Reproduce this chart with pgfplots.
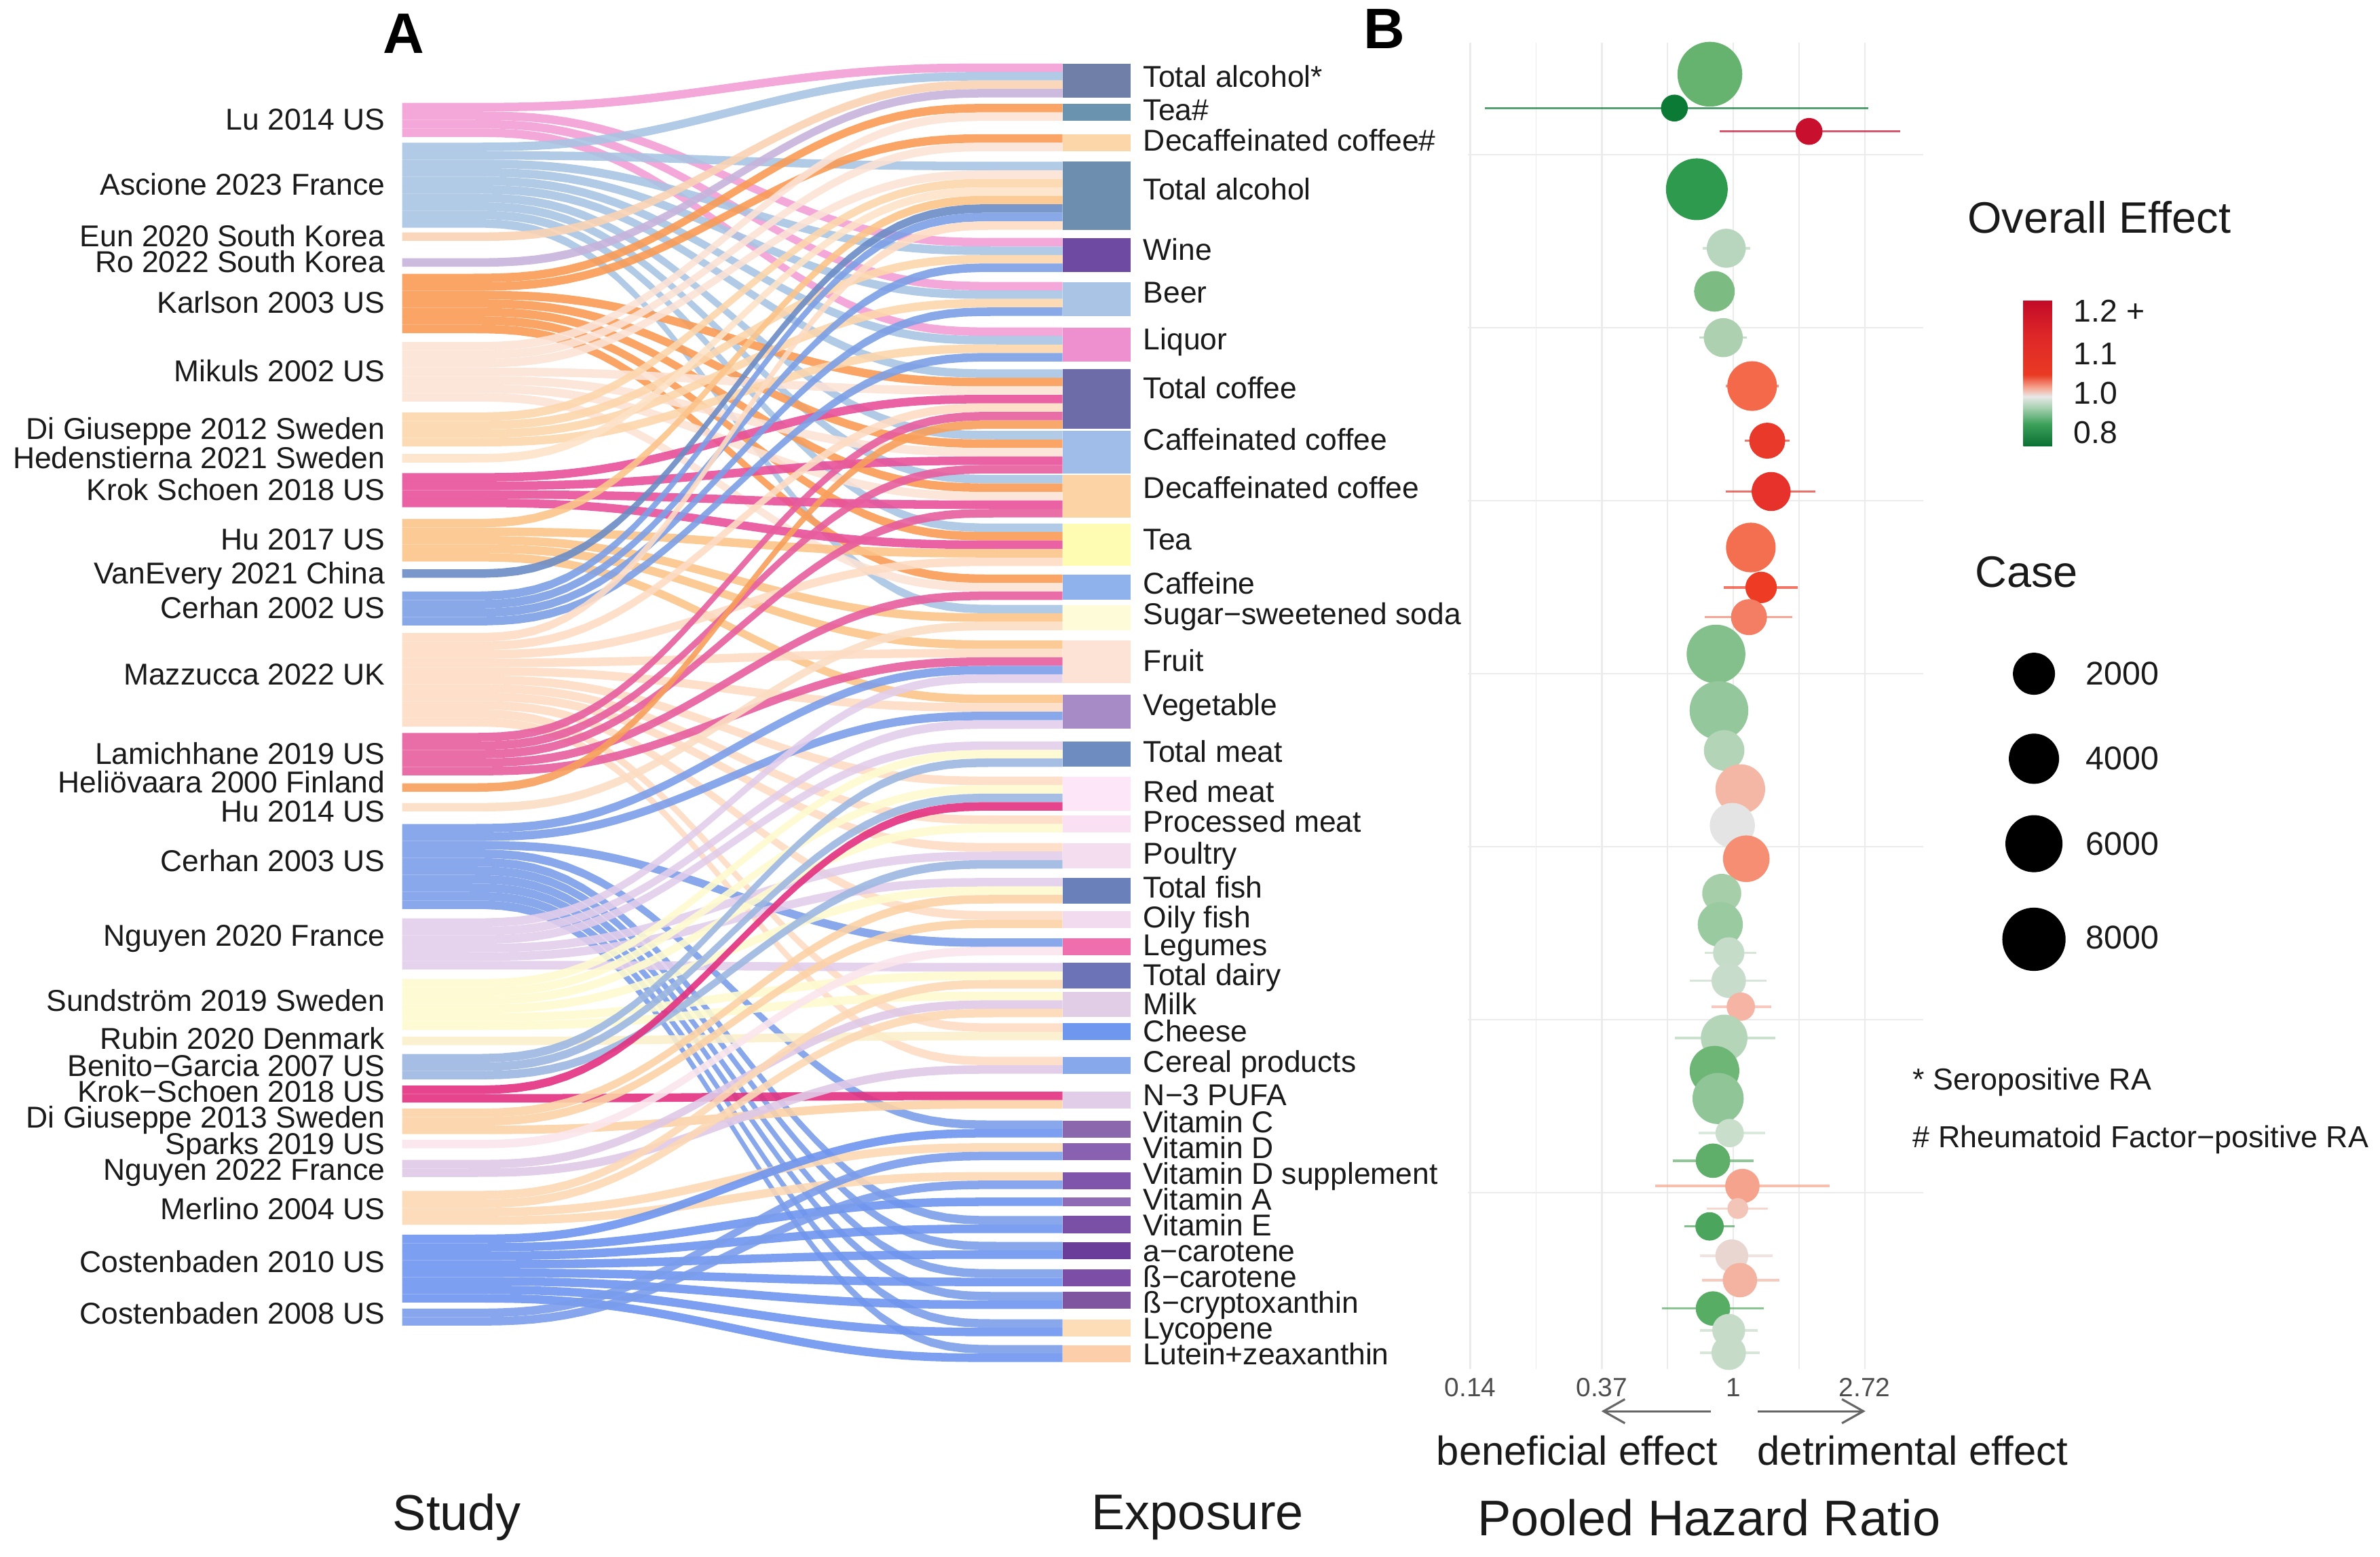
\documentclass[border=0pt]{standalone}
\usepackage{fontspec}
\setmainfont{Liberation Sans}
\usepackage{pgfplots}
\pgfplotsset{compat=1.18}
\usepackage{pgfplotstable}
\usetikzlibrary{arrows.meta,calc}

% ---- study colours
\definecolor{s1}{HTML}{F29FD5}\definecolor{s2}{HTML}{A9C4E2}\definecolor{s3}{HTML}{FAD3B4}
\definecolor{s4}{HTML}{C7B3DC}\definecolor{s5}{HTML}{F99B55}\definecolor{s6}{HTML}{FCE2D5}
\definecolor{s7}{HTML}{FCD6AC}\definecolor{s8}{HTML}{FDE3C8}\definecolor{s9}{HTML}{E8509A}
\definecolor{s10}{HTML}{FBC48A}\definecolor{s11}{HTML}{6B8CC6}\definecolor{s12}{HTML}{7C9FE6}
\definecolor{s13}{HTML}{FDDCC4}\definecolor{s14}{HTML}{E75E9E}\definecolor{s15}{HTML}{F79F5B}
\definecolor{s16}{HTML}{FCDEC4}\definecolor{s17}{HTML}{7C9EEA}\definecolor{s18}{HTML}{E2CDEA}
\definecolor{s19}{HTML}{FEFBCF}\definecolor{s20}{HTML}{FBEFCB}\definecolor{s21}{HTML}{9DB7E1}
\definecolor{s22}{HTML}{E3307F}\definecolor{s23}{HTML}{FCD2A6}\definecolor{s24}{HTML}{FBE6EC}
\definecolor{s25}{HTML}{DFC9E7}\definecolor{s26}{HTML}{FCD8B4}\definecolor{s27}{HTML}{6E95EF}
\definecolor{s28}{HTML}{7A9CEB}
% ---- exposure colours
\definecolor{e1}{HTML}{6F7FA8}\definecolor{e2}{HTML}{6A93B0}\definecolor{e3}{HTML}{FCD6A8}
\definecolor{e4}{HTML}{6E8EAF}\definecolor{e5}{HTML}{6E4AA2}\definecolor{e6}{HTML}{A9C4E4}
\definecolor{e7}{HTML}{EE8FD0}\definecolor{e8}{HTML}{6E6CA8}\definecolor{e9}{HTML}{A0BDEA}
\definecolor{e10}{HTML}{FCD3A4}\definecolor{e11}{HTML}{FEFBB2}\definecolor{e12}{HTML}{8FB1EC}
\definecolor{e13}{HTML}{FEFCD8}\definecolor{e14}{HTML}{FDE3D6}\definecolor{e15}{HTML}{A68BC6}
\definecolor{e16}{HTML}{6E8CC0}\definecolor{e17}{HTML}{FCE6F7}\definecolor{e18}{HTML}{F9E1F3}
\definecolor{e19}{HTML}{F5DDF0}\definecolor{e20}{HTML}{6A80BA}\definecolor{e21}{HTML}{F2DAEF}
\definecolor{e22}{HTML}{EE6EAE}\definecolor{e23}{HTML}{6C74B7}\definecolor{e24}{HTML}{E2CDE6}
\definecolor{e25}{HTML}{6E98F0}\definecolor{e26}{HTML}{88A8EC}\definecolor{e27}{HTML}{E2CDE8}
\definecolor{e28}{HTML}{8B67AE}\definecolor{e29}{HTML}{8862B0}\definecolor{e30}{HTML}{7E55AA}
\definecolor{e31}{HTML}{8E6BB4}\definecolor{e32}{HTML}{7A50A6}\definecolor{e33}{HTML}{6A3D9A}
\definecolor{e34}{HTML}{7C4EA5}\definecolor{e35}{HTML}{7E559E}\definecolor{e36}{HTML}{FDDDB8}
\definecolor{e37}{HTML}{FCCFAA}
% ---- forest colours
\definecolor{f1}{HTML}{66B36F}\definecolor{f2}{HTML}{0B7A35}\definecolor{f3}{HTML}{C8102E}
\definecolor{f4}{HTML}{2E9A4E}\definecolor{f5}{HTML}{B8D6BD}\definecolor{f6}{HTML}{7CBC83}
\definecolor{f7}{HTML}{ACD0B0}\definecolor{f8}{HTML}{F4694A}\definecolor{f9}{HTML}{E8392A}
\definecolor{f10}{HTML}{E6322A}\definecolor{f11}{HTML}{F46E50}\definecolor{f12}{HTML}{EE3B24}
\definecolor{f13}{HTML}{F47E64}\definecolor{f14}{HTML}{84C08B}\definecolor{f15}{HTML}{94C79B}
\definecolor{f16}{HTML}{B4D4B8}\definecolor{f17}{HTML}{F4B6A5}\definecolor{f18}{HTML}{E4E4E4}
\definecolor{f19}{HTML}{F58E73}\definecolor{f20}{HTML}{A5CEA9}\definecolor{f21}{HTML}{9ACA9F}
\definecolor{f22}{HTML}{C5DDC8}\definecolor{f23}{HTML}{C8DCCB}\definecolor{f24}{HTML}{F5B4A4}
\definecolor{f25}{HTML}{B4D5B8}\definecolor{f26}{HTML}{6DB676}\definecolor{f27}{HTML}{8FC597}
\definecolor{f28}{HTML}{C9DFCC}\definecolor{f29}{HTML}{5FAF6A}\definecolor{f30}{HTML}{F5A38C}
\definecolor{f31}{HTML}{F3C5B9}\definecolor{f32}{HTML}{4CA55C}\definecolor{f33}{HTML}{EAD6D0}
\definecolor{f34}{HTML}{F4B3A1}\definecolor{f35}{HTML}{57AD63}\definecolor{f36}{HTML}{C6DCC9}
\definecolor{f37}{HTML}{C6DCC9}
\definecolor{gridc}{HTML}{EBEBEB}
\definecolor{tickc}{HTML}{4D4D4D}
\definecolor{arrc}{HTML}{666666}
\definecolor{txt}{HTML}{1A1A1A}

% ribbon outline (top edge forward, bottom edge back); shape of an alluvial flow
\pgfplotstableread{
t s d
0 0 0
0.05 0 0
0.1 0 0
0.125 0.000291 0
0.15 0.0022182 0
0.175 0.0071245 0
0.2 0.0160522 0
0.225 0.0297653 0
0.25 0.048769 0
0.275 0.0733338 0
0.3 0.1035156 0
0.325 0.1391744 0
0.35 0.180006 0
0.375 0.2255458 0
0.4 0.2752075 0
0.425 0.3282946 0
0.45 0.3840256 0
0.475 0.441559 0
0.5 0.5 0
0.525 0.558441 0
0.55 0.6159744 0
0.575 0.6717054 0
0.6 0.7247925 0
0.625 0.7744542 0
0.65 0.819994 0
0.675 0.8608256 0
0.7 0.8964844 0
0.725 0.9266662 0
0.75 0.951231 0
0.775 0.9702347 0
0.8 0.9839478 0
0.825 0.9928755 0
0.85 0.9977818 0
0.875 0.999709 0
0.9 1 0
0.95 1 0
1 1 0
1 1 1
0.95 1 1
0.9 1 1
0.875 0.999709 1
0.85 0.9977818 1
0.825 0.9928755 1
0.8 0.9839478 1
0.775 0.9702347 1
0.75 0.951231 1
0.725 0.9266662 1
0.7 0.8964844 1
0.675 0.8608256 1
0.65 0.819994 1
0.625 0.7744542 1
0.6 0.7247925 1
0.575 0.6717054 1
0.55 0.6159744 1
0.525 0.558441 1
0.5 0.5 1
0.475 0.441559 1
0.45 0.3840256 1
0.425 0.3282946 1
0.4 0.2752075 1
0.375 0.2255458 1
0.35 0.180006 1
0.325 0.1391744 1
0.3 0.1035156 1
0.275 0.0733338 1
0.25 0.048769 1
0.225 0.0297653 1
0.2 0.0160522 1
0.175 0.0071245 1
0.15 0.0022182 1
0.125 0.000291 1
0.1 0 1
0.05 0 1
0 0 1
}\ribbon

\newcommand\lab{\fontsize{11.3}{13}\selectfont}
\newcommand\fl[3]{\addplot[fill=#3, draw=none, fill opacity=0.9] table[x expr={265+435*\thisrow{t}}, y expr={#1+(#2-#1)*\thisrow{s}+5.6*\thisrow{d}}] {\ribbon};}
\newcommand\bx[3]{\addplot[fill=#3, draw=none] coordinates {(700,#1) (745,#1) (745,#2) (700,#2)};}
\newcommand\fp[6]{\addplot[draw=#6, line width=0.9pt, draw opacity=0.7] coordinates {(#3,#1) (#4,#1)};
  \addplot[only marks, mark=*, color=#6, mark size=#5cm] coordinates {(#2,#1)};}

\tikzset{
  lblE/.style={anchor=east, font=\lab, inner sep=0pt, text height=8.2pt, text depth=0.8pt, text=txt},
  lblW/.style={anchor=west, font=\lab, inner sep=0pt, text height=8.2pt, text depth=0.8pt, text=txt},
}

\begin{document}
\begin{tikzpicture}
\begin{axis}[at={(0,0)}, anchor=north west, scale only axis, width=31.36cm, height=20.52cm,
  xmin=0, xmax=1568, ymin=0, ymax=1026, y dir=reverse, hide axis, clip=false]
% ================= flows (study -> exposure)
% Lu 2014
\fl{67.8}{41.8}{s1}\fl{73.4}{156.8}{s1}\fl{79.0}{185.8}{s1}\fl{84.6}{215.8}{s1}
% Ascione 2023
\fl{94}{47.4}{s2}\fl{99.6}{106.6}{s2}\fl{105.2}{162.4}{s2}\fl{110.8}{191.4}{s2}\fl{116.4}{221.4}{s2}
\fl{122.0}{243.4}{s2}\fl{127.6}{284}{s2}\fl{133.2}{313}{s2}\fl{138.8}{345}{s2}\fl{144.4}{398.6}{s2}
% Eun, Ro
\fl{153.2}{53.0}{s3}
\fl{170.2}{58.6}{s4}
% Karlson 2003
\fl{180.4}{68.4}{s5}\fl{186.0}{88.4}{s5}\fl{191.6}{249.0}{s5}\fl{197.2}{289.6}{s5}\fl{202.8}{318.6}{s5}
\fl{208.4}{350.6}{s5}\fl{214.0}{378.6}{s5}
% Mikuls 2002
\fl{225.4}{74.0}{s6}\fl{231.0}{94.0}{s6}\fl{236.6}{112.2}{s6}\fl{242.2}{254.6}{s6}\fl{247.8}{295.2}{s6}
\fl{253.4}{324.2}{s6}\fl{259.0}{384.2}{s6}
% Di Giuseppe 2012
\fl{271.8}{117.8}{s7}\fl{277.4}{168.0}{s7}\fl{283.0}{197.0}{s7}\fl{288.6}{227.0}{s7}
% Hedenstierna
\fl{299.2}{123.4}{s8}
% Krok Schoen 2018
\fl{311.8}{260.2}{s9}\fl{317.4}{300.8}{s9}\fl{323.0}{329.8}{s9}\fl{328.6}{356.2}{s9}
% Hu 2017
\fl{342}{129.0}{s10}\fl{347.6}{361.8}{s10}\fl{353.2}{404.2}{s10}\fl{358.8}{422.0}{s10}\fl{364.4}{457.8}{s10}
% VanEvery
\fl{375.2}{134.6}{s11}
% Cerhan 2002
\fl{389.8}{140.2}{s12}\fl{395.4}{173.6}{s12}\fl{401.0}{202.6}{s12}\fl{406.6}{232.6}{s12}
% Mazzucca 2022
\fl{417.2}{145.8}{s13}\fl{422.8}{265.8}{s13}\fl{428.4}{367.4}{s13}\fl{434.0}{427.6}{s13}\fl{439.6}{463.4}{s13}
\fl{445.2}{511.8}{s13}\fl{450.8}{537.4}{s13}\fl{456.4}{555.6}{s13}\fl{462.0}{600.4}{s13}\fl{467.6}{674.4}{s13}
\fl{473.2}{696.4}{s13}
% Lamichhane 2019
\fl{483}{271.4}{s14}\fl{488.6}{306.4}{s14}\fl{494.2}{335.4}{s14}\fl{499.8}{389.8}{s14}\fl{505.4}{433.2}{s14}
% Heliovaara, Hu 2014
\fl{516.2}{277.0}{s15}
\fl{529.2}{409.8}{s16}
% Cerhan 2003
\fl{543}{438.8}{s17}\fl{548.6}{469.0}{s17}\fl{554.2}{618.4}{s17}\fl{559.8}{738.4}{s17}\fl{565.4}{801.4}{s17}
\fl{571.0}{818.4}{s17}\fl{576.6}{836.4}{s17}\fl{582.2}{851.4}{s17}\fl{587.8}{869.4}{s17}\fl{593.4}{886.4}{s17}
% Nguyen 2020
\fl{605.2}{444.4}{s18}\fl{610.8}{474.6}{s18}\fl{616.4}{488.6}{s18}\fl{622.0}{561.2}{s18}\fl{627.6}{578.6}{s18}
\fl{633.2}{634.6}{s18}
% Sundstrom 2019
\fl{645.2}{494.2}{s19}\fl{650.8}{517.4}{s19}\fl{656.4}{543.0}{s19}\fl{662.0}{584.2}{s19}\fl{667.6}{640.2}{s19}
\fl{673.2}{653.6}{s19}
% Rubin 2020
\fl{683.2}{680.0}{s20}
% Benito-Garcia 2007
\fl{694.6}{499.8}{s21}\fl{700.2}{523.0}{s21}\fl{705.8}{566.8}{s21}
% Krok-Schoen 2018
\fl{715.4}{528.6}{s22}\fl{721.0}{719.4}{s22}
% Di Giuseppe 2013
\fl{730.6}{589.8}{s23}\fl{736.2}{606.0}{s23}\fl{741.8}{725.0}{s23}
% Sparks 2019
\fl{751.2}{624.0}{s24}
% Nguyen 2022
\fl{764.4}{659.2}{s25}\fl{770.0}{702.0}{s25}
% Merlino 2004
\fl{784.8}{645.8}{s26}\fl{790.4}{664.8}{s26}\fl{796.0}{753.4}{s26}\fl{801.6}{772.4}{s26}
% Costenbaden 2010
\fl{813.6}{744.0}{s27}\fl{819.2}{789.2}{s27}\fl{824.8}{807.0}{s27}\fl{830.4}{824.0}{s27}
\fl{836.0}{842.0}{s27}\fl{841.6}{857.0}{s27}\fl{847.2}{875.0}{s27}\fl{852.8}{892.0}{s27}
% Costenbaden 2008
\fl{862.4}{759.0}{s28}\fl{868.0}{778.0}{s28}

% ================= exposure boxes
\bx{41.8}{64.2}{e1}\bx{68.4}{79.6}{e2}\bx{88.4}{99.6}{e3}\bx{106.6}{151.4}{e4}
\bx{156.8}{179.2}{e5}\bx{185.8}{208.2}{e6}\bx{215.8}{238.2}{e7}\bx{243.4}{282.6}{e8}
\bx{284}{312}{e9}\bx{313}{341}{e10}\bx{345}{373}{e11}\bx{378.6}{395.4}{e12}
\bx{398.6}{415.4}{e13}\bx{422}{450}{e14}\bx{457.8}{480.2}{e15}\bx{488.6}{505.4}{e16}
\bx{511.8}{534.2}{e17}\bx{537.4}{548.6}{e18}\bx{555.6}{572.4}{e19}\bx{578.6}{595.4}{e20}
\bx{600.4}{611.6}{e21}\bx{618.4}{629.6}{e22}\bx{634.6}{651.4}{e23}\bx{653.6}{670.4}{e24}
\bx{674.4}{685.6}{e25}\bx{696.4}{707.6}{e26}\bx{719.4}{730.6}{e27}\bx{738.4}{749.6}{e28}
\bx{753.4}{764.6}{e29}\bx{772.4}{783.6}{e30}\bx{789.2}{794.8}{e31}\bx{801.4}{812.6}{e32}
\bx{818.4}{829.6}{e33}\bx{836.4}{847.6}{e34}\bx{851.4}{862.6}{e35}\bx{869.4}{880.6}{e36}
\bx{886.4}{897.6}{e37}

% ================= study labels
\node[lblE] at (axis cs:254,79) {Lu 2014 US};
\node[lblE] at (axis cs:254,122) {Ascione 2023 France};
\node[lblE] at (axis cs:254,156) {Eun 2020 South Korea};
\node[lblE] at (axis cs:254,173) {Ro 2022 South Korea};
\node[lblE] at (axis cs:254,200) {Karlson 2003 US};
\node[lblE] at (axis cs:254,245) {Mikuls 2002 US};
\node[lblE] at (axis cs:254,283) {Di Giuseppe 2012 Sweden};
\node[lblE] at (axis cs:254,302) {Hedenstierna 2021 Sweden};
\node[lblE] at (axis cs:254,323) {Krok Schoen 2018 US};
\node[lblE] at (axis cs:254,356) {Hu 2017 US};
\node[lblE] at (axis cs:254,378) {VanEvery 2021 China};
\node[lblE] at (axis cs:254,401) {Cerhan 2002 US};
\node[lblE] at (axis cs:254,445) {Mazzucca 2022 UK};
\node[lblE] at (axis cs:254,497) {Lamichhane 2019 US};
\node[lblE] at (axis cs:254,516) {Heliövaara 2000 Finland};
\node[lblE] at (axis cs:254,535) {Hu 2014 US};
\node[lblE] at (axis cs:254,568) {Cerhan 2003 US};
\node[lblE] at (axis cs:254,617) {Nguyen 2020 France};
\node[lblE] at (axis cs:254,660) {Sundström 2019 Sweden};
\node[lblE] at (axis cs:254,685) {Rubin 2020 Denmark};
\node[lblE] at (axis cs:254,703) {Benito−Garcia 2007 US};
\node[lblE] at (axis cs:254,720) {Krok−Schoen 2018 US};
\node[lblE] at (axis cs:254,737) {Di Giuseppe 2013 Sweden};
\node[lblE] at (axis cs:254,754) {Sparks 2019 US};
\node[lblE] at (axis cs:254,771) {Nguyen 2022 France};
\node[lblE] at (axis cs:254,797) {Merlino 2004 US};
\node[lblE] at (axis cs:254,832) {Costenbaden 2010 US};
\node[lblE] at (axis cs:254,866) {Costenbaden 2008 US};

% ================= exposure labels
\node[lblW] at (axis cs:753,51) {Total alcohol*};
\node[lblW] at (axis cs:753,73) {Tea\#};
\node[lblW] at (axis cs:753,93) {Decaffeinated coffee\#};
\node[lblW] at (axis cs:753,125) {Total alcohol};
\node[lblW] at (axis cs:753,165) {Wine};
\node[lblW] at (axis cs:753,193) {Beer};
\node[lblW] at (axis cs:753,224) {Liquor};
\node[lblW] at (axis cs:753,256) {Total coffee};
\node[lblW] at (axis cs:753,290) {Caffeinated coffee};
\node[lblW] at (axis cs:753,322) {Decaffeinated coffee};
\node[lblW] at (axis cs:753,356) {Tea};
\node[lblW] at (axis cs:753,385) {Caffeine};
\node[lblW] at (axis cs:753,405) {Sugar−sweetened soda};
\node[lblW] at (axis cs:753,436) {Fruit};
\node[lblW] at (axis cs:753,465) {Vegetable};
\node[lblW] at (axis cs:753,496) {Total meat};
\node[lblW] at (axis cs:753,522) {Red meat};
\node[lblW] at (axis cs:753,542) {Processed meat};
\node[lblW] at (axis cs:753,563) {Poultry};
\node[lblW] at (axis cs:753,585) {Total fish};
\node[lblW] at (axis cs:753,605) {Oily fish};
\node[lblW] at (axis cs:753,623) {Legumes};
\node[lblW] at (axis cs:753,643) {Total dairy};
\node[lblW] at (axis cs:753,662) {Milk};
\node[lblW] at (axis cs:753,680) {Cheese};
\node[lblW] at (axis cs:753,700) {Cereal products};
\node[lblW] at (axis cs:753,722) {N−3 PUFA};
\node[lblW] at (axis cs:753,740) {Vitamin C};
\node[lblW] at (axis cs:753,757) {Vitamin D};
\node[lblW] at (axis cs:753,774) {Vitamin D supplement};
\node[lblW] at (axis cs:753,791) {Vitamin A};
\node[lblW] at (axis cs:753,808) {Vitamin E};
\node[lblW] at (axis cs:753,825) {a−carotene};
\node[lblW] at (axis cs:753,842) {ß−carotene};
\node[lblW] at (axis cs:753,859) {ß−cryptoxanthin};
\node[lblW] at (axis cs:753,876) {Lycopene};
\node[lblW] at (axis cs:753,893) {Lutein+zeaxanthin};

% ================= panel letters and titles
\node[font=\fontsize{21.4}{24}\selectfont\bfseries, text=black] at (axis cs:266,22) {A};
\node[font=\fontsize{21.4}{24}\selectfont\bfseries, text=black] at (axis cs:912,19) {B};
\node[font=\fontsize{18.8}{22}\selectfont, text=txt] at (axis cs:301,1000) {Study};
\node[font=\fontsize{18.8}{22}\selectfont, text=txt] at (axis cs:789,1000) {Exposure};
\node[font=\fontsize{18.8}{22}\selectfont, text=txt] at (axis cs:1126,1000) {Pooled Hazard Ratio};

% ================= effect arrows
\addplot[draw=arrc, line width=0.8pt, -{Straight Barb[length=8pt,width=9pt]}] coordinates {(1127,930) (1055,930)};
\addplot[draw=arrc, line width=0.8pt, -{Straight Barb[length=8pt,width=9pt]}] coordinates {(1158,930) (1229,930)};
\node[font=\fontsize{15.2}{18}\selectfont, text=txt] at (axis cs:1039,956) {beneficial effect};
\node[font=\fontsize{15.2}{18}\selectfont, text=txt] at (axis cs:1260,956) {detrimental effect};

% ================= legends
\node[font=\fontsize{16.5}{19}\selectfont, text=txt] at (axis cs:1383,143) {Overall Effect};
\node[font=\fontsize{16.5}{19}\selectfont, text=txt] at (axis cs:1335,377) {Case};
\addplot[only marks, mark=*, color=black, mark size=0.27cm] coordinates {(1340,444)};
\addplot[only marks, mark=*, color=black, mark size=0.324cm] coordinates {(1340,500)};
\addplot[only marks, mark=*, color=black, mark size=0.369cm] coordinates {(1340,556)};
\addplot[only marks, mark=*, color=black, mark size=0.41cm] coordinates {(1340,619)};
\node[anchor=west, font=\fontsize{12.3}{14}\selectfont, text=txt] at (axis cs:1368,444) {2000};
\node[anchor=west, font=\fontsize{12.3}{14}\selectfont, text=txt] at (axis cs:1368,500) {4000};
\node[anchor=west, font=\fontsize{12.3}{14}\selectfont, text=txt] at (axis cs:1368,556) {6000};
\node[anchor=west, font=\fontsize{12.3}{14}\selectfont, text=txt] at (axis cs:1368,618) {8000};
\node[anchor=west, inner sep=0pt, font=\fontsize{11.4}{14}\selectfont, text=txt] at (axis cs:1260,713) {* Seropositive RA};
\node[anchor=west, inner sep=0pt, font=\fontsize{11.4}{14}\selectfont, text=txt] at (axis cs:1260,751) {\# Rheumatoid Factor−positive RA};
\end{axis}

% ================= panel B: forest plot
\begin{axis}[at={(19.34cm,-0.56cm)}, anchor=north west, scale only axis, width=6cm, height=17.48cm,
  xmode=log, xmin=0.1327, xmax=4.24, ymin=28, ymax=902, y dir=reverse, clip=false,
  axis line style={draw=none}, major tick length=0pt, minor tick length=0pt,
  xtick={0.1353,0.3679,1,2.7183}, xticklabels={0.14,0.37,1,2.72},
  minor xtick={0.2231,0.6065,1.6487},
  ytick={102,216,330,444,558,672,786}, yticklabels={},
  xmajorgrids, xminorgrids, ymajorgrids,
  major grid style={draw=gridc, line width=0.6pt},
  minor grid style={draw=gridc, line width=0.45pt},
  xticklabel style={font=\fontsize{9.9}{12}\selectfont, text=tickc},
  colorbar,
  colormap={oe}{rgb255(0cm)=(10,112,50); rgb255(1.5cm)=(60,160,90); rgb255(2.7cm)=(172,211,181); rgb255(3.4cm)=(232,232,232); rgb255(4.0cm)=(245,168,148); rgb255(4.9cm)=(234,58,35); rgb255(7.5cm)=(222,40,40); rgb255(10cm)=(195,10,40)},
  point meta min=0, point meta max=1,
  colorbar style={at={($(parent axis.north west)+(7.02cm,-3.40cm)$)}, anchor=north west,
    scale only axis, width=0.38cm, height=1.92cm, axis line style={draw=none},
    ymin=0, ymax=1, ytick={0.093,0.363,0.634,0.927}, yticklabels={0.8,1.0,1.1,{1.2 +}},
    major tick length=0pt,
    yticklabel style={font=\fontsize{11.8}{14}\selectfont, text=txt, xshift=0.16cm}},
]
\fp{48.9}{0.837}{0.80}{0.87}{0.42}{f1}
\fp{71.2}{0.639}{0.151}{2.79}{0.17}{f2}
\fp{86.6}{1.78}{0.901}{3.56}{0.17}{f3}
\fp{124.7}{0.758}{0.72}{0.80}{0.40}{f4}
\fp{163.6}{0.948}{0.794}{1.135}{0.25}{f5}
\fp{192.0}{0.867}{0.741}{1.01}{0.26}{f6}
\fp{222.5}{0.927}{0.772}{1.11}{0.25}{f7}
\fp{254.4}{1.154}{0.944}{1.413}{0.32}{f8}
\fp{290.4}{1.295}{1.092}{1.533}{0.23}{f9}
\fp{323.9}{1.334}{0.944}{1.865}{0.25}{f10}
\fp{360.8}{1.143}{1.05}{1.25}{0.32}{f11}
\fp{387.1}{1.236}{0.929}{1.631}{0.20}{f12}
\fp{406.7}{1.127}{0.803}{1.568}{0.23}{f13}
\fp{431.0}{0.877}{0.84}{0.92}{0.38}{f14}
\fp{468.2}{0.897}{0.85}{0.95}{0.38}{f15}
\fp{494.5}{0.933}{0.85}{1.02}{0.26}{f16}
\fp{520.0}{1.055}{0.97}{1.15}{0.32}{f17}
\fp{544.0}{0.993}{0.92}{1.07}{0.29}{f18}
\fp{565.9}{1.104}{1.02}{1.19}{0.30}{f19}
\fp{588.7}{0.916}{0.84}{1.00}{0.25}{f20}
\fp{609.2}{0.906}{0.84}{0.98}{0.29}{f21}
\fp{628.0}{0.966}{0.803}{1.19}{0.20}{f22}
\fp{646.3}{0.966}{0.72}{1.29}{0.22}{f23}
\fp{663.4}{1.059}{0.847}{1.335}{0.18}{f24}
\fp{684.0}{0.933}{0.642}{1.38}{0.30}{f25}
\fp{705.6}{0.867}{0.80}{0.94}{0.32}{f26}
\fp{723.9}{0.891}{0.82}{0.97}{0.33}{f27}
\fp{746.7}{0.973}{0.767}{1.274}{0.18}{f28}
\fp{764.9}{0.857}{0.631}{1.17}{0.22}{f29}
\fp{781.6}{1.072}{0.551}{2.083}{0.22}{f30}
\fp{796.4}{1.035}{0.816}{1.304}{0.13}{f31}
\fp{808.2}{0.835}{0.691}{1.012}{0.18}{f32}
\fp{827.6}{0.989}{0.776}{1.35}{0.21}{f33}
\fp{843.6}{1.052}{0.79}{1.42}{0.22}{f34}
\fp{862.3}{0.857}{0.582}{1.26}{0.22}{f35}
\fp{876.7}{0.966}{0.776}{1.203}{0.21}{f36}
\fp{891.5}{0.966}{0.776}{1.225}{0.22}{f37}
\end{axis}
\pgfresetboundingbox
\useasboundingbox (0,0) rectangle (31.36cm,-20.52cm);
\end{tikzpicture}
\end{document}
